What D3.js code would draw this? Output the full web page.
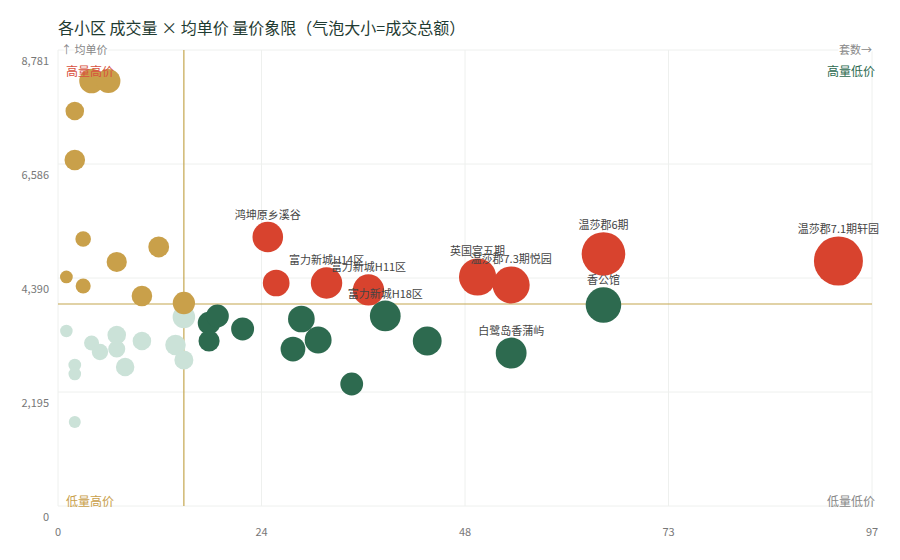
<!DOCTYPE html>
<html>
<head>
<meta charset="utf-8">
<script src="https://cdn.jsdelivr.net/npm/d3@7"></script>
<style>
  body { margin: 0; background: #fff; }
  svg text { font-family: "Noto Sans CJK SC", "Noto Sans", sans-serif; }
</style>
</head>
<body>
<div class="chart"></div>
<script>
var svgWidth = 900;
var svgHeight = 560;

var margin = { top: 50, right: 28, bottom: 54, left: 58 };

var width = svgWidth - margin.left - margin.right;
var height = svgHeight - margin.top - margin.bottom;

// data: one entry per 小区
var names = [
  "", "", "", "", "", "", "", "", "", "", "",
  "", "", "", "", "", "", "", "", "", "", "", "", "",
  "", "", "", "", "", "", "", "", "富力新城H18区", "", "白鹭岛香蒲屿", "香公馆",
  "鸿坤原乡溪谷", "", "富力新城H14区", "富力新城H11区", "英国宫五期", "温莎郡7.3期悦园", "温莎郡6期", "温莎郡7.1期轩园"
];
var counts = [
  4, 6, 2, 2, 3, 12, 7, 1, 3, 10, 15,
  1, 4, 5, 7, 7, 10, 8, 2, 2, 2, 14, 15, 15,
  18, 19, 18, 22, 29, 31, 28, 35, 39, 44, 54, 65,
  25, 26, 32, 37, 50, 54, 65, 93
];
var prices = [
  8184, 8184, 7606, 6663, 5142, 4988, 4699, 4410, 4237, 4044, 3909,
  3370, 3139, 2966, 3293, 3023, 3177, 2677, 2715, 2542, 1618, 3100, 3640, 2812,
  3524, 3659, 3177, 3409, 3601, 3197, 3023, 2349, 3659, 3177, 2946, 3871,
  5180, 4294, 4294, 4160, 4410, 4256, 4853, 4718
];
// 成交总额 (万元)
var amounts = [
  692, 650, 266, 386, 130, 400, 360, 45, 110, 386, 500,
  40, 110, 160, 266, 190, 266, 260, 45, 42, 30, 380, 520, 290,
  528, 540, 420, 550, 880, 900, 700, 540, 1320, 1100, 1330, 1950,
  1300, 880, 1400, 1380, 2200, 2180, 3300, 4400
];

var maxCount = 97;
var maxPrice = 8781;
var xTickLabels = ["0", "24", "48", "73", "97"];
var yTickLabels = ["0", "2,195", "4,390", "6,586", "8,781"];
var medianCount = 15;
var medianPrice = 3890;

var quadrantNames = ["高量高价", "高量低价", "低量高价", "低量低价"];
var colors = { red: "#d8432e", gold: "#c9a04a", dark: "#2d6a4f", light: "#cbe2d8" };

var points = names.map(function(n, i) {
  return { name: n, count: counts[i], price: prices[i], amount: amounts[i] };
});

var svg = d3.select(".chart")
  .append("svg")
  .attr("width", svgWidth)
  .attr("height", svgHeight);

var chartGroup = svg.append("g")
  .attr("transform", `translate(${margin.left}, ${margin.top})`);

var xScale = d3.scaleLinear().domain([0, maxCount]).range([0, width]);
var yScale = d3.scaleLinear().domain([0, maxPrice]).range([height, 0]);
var rScale = d3.scaleSqrt().domain(d3.extent(amounts)).range([6, 24.5]);

var xTicks = xTickLabels.map((t, i) => maxCount * i / (xTickLabels.length - 1));
var yTicks = yTickLabels.map((t, i) => maxPrice * i / (yTickLabels.length - 1));

// grid
chartGroup.selectAll(".vgrid").data(xTicks).enter().append("line")
  .attr("x1", d => xScale(d)).attr("x2", d => xScale(d))
  .attr("y1", 0).attr("y2", height)
  .attr("stroke", "#eef0ee").attr("stroke-width", 1);

chartGroup.selectAll(".hgrid").data(yTicks).enter().append("line")
  .attr("x1", 0).attr("x2", width)
  .attr("y1", d => yScale(d)).attr("y2", d => yScale(d))
  .attr("stroke", "#eef0ee").attr("stroke-width", 1);

// tick labels
chartGroup.selectAll(".xlab").data(xTicks).enter().append("text")
  .attr("x", d => xScale(d))
  .attr("y", height + 30)
  .attr("text-anchor", "middle")
  .attr("font-size", 11)
  .attr("fill", "#777")
  .text((d, i) => xTickLabels[i]);

chartGroup.selectAll(".ylab").data(yTicks).enter().append("text")
  .attr("x", -9)
  .attr("y", d => yScale(d) + 15)
  .attr("text-anchor", "end")
  .attr("font-size", 11)
  .attr("fill", "#777")
  .text((d, i) => yTickLabels[i]);

// median lines
chartGroup.append("line")
  .attr("x1", xScale(medianCount)).attr("x2", xScale(medianCount))
  .attr("y1", 0).attr("y2", height)
  .attr("stroke", "#c4a64e").attr("stroke-width", 1.2);

chartGroup.append("line")
  .attr("x1", 0).attr("x2", width)
  .attr("y1", yScale(medianPrice)).attr("y2", yScale(medianPrice))
  .attr("stroke", "#c4a64e").attr("stroke-width", 1.2);

function colorOf(d) {
  var hiVol = d.count > medianCount, hiPrice = d.price > medianPrice;
  if (hiVol && hiPrice) return colors.red;
  if (hiVol) return colors.dark;
  if (hiPrice) return colors.gold;
  return colors.light;
}
function rank(d) {
  var c = colorOf(d);
  return c === colors.light ? 0 : c === colors.gold ? 1 : c === colors.dark ? 2 : 3;
}

var drawOrder = points.slice().sort((a, b) => rank(a) - rank(b));

chartGroup.selectAll("circle")
  .data(drawOrder)
  .enter()
  .append("circle")
  .attr("cx", d => xScale(d.count))
  .attr("cy", d => yScale(d.price))
  .attr("r", d => rScale(d.amount))
  .attr("fill", d => colorOf(d));

// bubble labels
chartGroup.selectAll(".blabel")
  .data(points.filter(d => d.name))
  .enter()
  .append("text")
  .attr("x", d => xScale(d.count))
  .attr("y", d => yScale(d.price) - rScale(d.amount) - 3)
  .attr("text-anchor", "middle")
  .attr("font-size", 11)
  .attr("fill", "#444")
  .text(d => d.name);

// quadrant labels
var quad = [
  { t: quadrantNames[0], x: 8, y: 26, anchor: "start", c: "#d8503e" },
  { t: quadrantNames[1], x: width + 3, y: 26, anchor: "end", c: "#2d6a4f" },
  { t: quadrantNames[2], x: 8, y: height, anchor: "start", c: "#c9a04a" },
  { t: quadrantNames[3], x: width + 3, y: height, anchor: "end", c: "#888" }
];
chartGroup.selectAll(".qlabel").data(quad).enter().append("text")
  .attr("x", d => d.x).attr("y", d => d.y)
  .attr("text-anchor", d => d.anchor)
  .attr("font-size", 12)
  .attr("fill", d => d.c)
  .text(d => d.t);

// axis names
chartGroup.append("text")
  .attr("x", 3).attr("y", 4)
  .attr("font-size", 11)
  .attr("fill", "#888")
  .attr("stroke", "#fff").attr("stroke-width", 3).attr("paint-order", "stroke")
  .text("↑ 均单价");

chartGroup.append("text")
  .attr("x", width).attr("y", 4)
  .attr("text-anchor", "end")
  .attr("font-size", 11)
  .attr("fill", "#888")
  .attr("stroke", "#fff").attr("stroke-width", 3).attr("paint-order", "stroke")
  .text("套数→");

// title
svg.append("text")
  .attr("x", 58).attr("y", 34)
  .attr("font-size", 16)
  .attr("fill", "#1f3b32")
  .text("各小区 成交量 × 均单价 量价象限（气泡大小=成交总额）");
</script>
</body>
</html>
